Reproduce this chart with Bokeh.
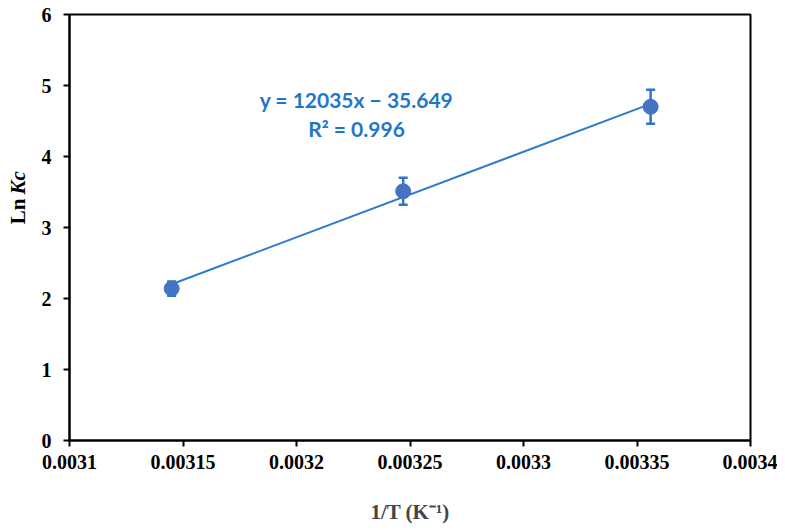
import math
from bokeh.plotting import figure
from bokeh.layouts import row
from bokeh.models import ColumnDataSource, Whisker, TeeHead, Label, FixedTicker, Range1d
from bokeh.embed import file_html
from bokeh.resources import INLINE

# data
inv_T = [0.003145, 0.003247, 0.003356]
ln_kc = [2.14, 3.51, 4.70]
err = [0.10, 0.19, 0.24]
slope = 12035.0
intercept = -35.649
eq_text = "y = 12035x \u2212 35.649"
r2_text = "R\u00b2 = 0.996"
x_ticks = [0.0031, 0.00315, 0.0032, 0.00325, 0.0033, 0.00335, 0.0034]
x_tick_labels = ["0.0031", "0.00315", "0.0032", "0.00325", "0.0033", "0.00335", "0.0034"]
y_ticks = [0, 1, 2, 3, 4, 5, 6]

H = 530
LW = 30          # width of the y-title strip
W = 747

# --- strip holding the y-axis title (so "Kc" can be italic) ---
lab = figure(width=LW, height=H, output_backend="svg", toolbar_location=None,
             x_range=Range1d(0, LW), y_range=Range1d(0, H), min_border=0)
lab.axis.visible = False
lab.grid.visible = False
lab.outline_line_color = None
lab.border_fill_color = "white"
lab.background_fill_color = "white"
ly = H - 227
lab.add_layout(Label(x=17, y=ly - 2, text="Ln", angle=math.pi / 2,
                     text_align="right", text_baseline="middle",
                     text_font="Liberation Serif", text_font_style="bold",
                     text_font_size="21px", text_color="black"))
lab.add_layout(Label(x=17, y=ly + 3, text="Kc", angle=math.pi / 2,
                     text_align="left", text_baseline="middle",
                     text_font="Liberation Serif", text_font_style="bold italic",
                     text_font_size="21px", text_color="black"))

# --- main plot ---
p = figure(width=W, height=H, output_backend="svg", toolbar_location=None,
           x_range=Range1d(0.0031, 0.0034), y_range=Range1d(0, 6),
           min_border_left=69 - LW, min_border_right=27, min_border_top=14, min_border_bottom=90)
p.grid.visible = False
p.outline_line_color = "black"
p.outline_line_width = 2
p.background_fill_color = "white"
p.border_fill_color = "white"

for ax in (p.xaxis[0], p.yaxis[0]):
    ax.axis_line_width = 2
    ax.axis_line_color = "black"
    ax.major_tick_line_width = 2
    ax.major_tick_in = 0
    ax.major_tick_out = 6
    ax.minor_tick_line_color = None
    ax.major_label_text_font = "Liberation Serif"
    ax.major_label_text_font_style = "bold"
    ax.major_label_text_font_size = "20px"
    ax.major_label_text_color = "black"

p.xaxis[0].ticker = FixedTicker(ticks=x_ticks)
p.xaxis[0].major_label_overrides = {t: l for t, l in zip(x_ticks, x_tick_labels)}
p.xaxis[0].major_label_standoff = 8
p.yaxis[0].ticker = FixedTicker(ticks=y_ticks)
p.yaxis[0].major_label_standoff = 12

p.xaxis[0].axis_label = "1/T (K\u207b\u00b9)"
p.xaxis[0].axis_label_text_font = "Liberation Serif"
p.xaxis[0].axis_label_text_font_style = "bold"
p.xaxis[0].axis_label_text_font_size = "21px"
p.xaxis[0].axis_label_standoff = 28

# trendline across the data range
x0, x1 = min(inv_T), max(inv_T)
p.line([x0, x1], [slope * x0 + intercept, slope * x1 + intercept],
       line_color="#2E7BCF", line_width=2)

src = ColumnDataSource(dict(x=inv_T, y=ln_kc,
                            lo=[v - e for v, e in zip(ln_kc, err)],
                            hi=[v + e for v, e in zip(ln_kc, err)]))
wh = Whisker(source=src, base="x", lower="lo", upper="hi", line_color="#2E75C6", line_width=2.5,
             upper_head=TeeHead(size=9, line_color="#2E75C6", line_width=2.5),
             lower_head=TeeHead(size=9, line_color="#2E75C6", line_width=2.5))
p.add_layout(wh)
p.scatter("x", "y", source=src, size=15, marker="circle", fill_color="#4472C4", line_color="#4472C4")

ex = 0.0031 + (356 - 69) * 0.0003 / 681
p.add_layout(Label(x=ex, y=4.80, text=eq_text, text_align="center", text_baseline="middle",
                   text_font="Lato", text_font_style="bold", text_font_size="21px",
                   text_color="#1F77C9"))
p.add_layout(Label(x=ex, y=4.39, text=r2_text, text_align="center", text_baseline="middle",
                   text_font="Lato", text_font_style="bold", text_font_size="21px",
                   text_color="#1F77C9"))

layout = row(lab, p, spacing=0)
open("out.html", "w").write(file_html(layout, INLINE))
